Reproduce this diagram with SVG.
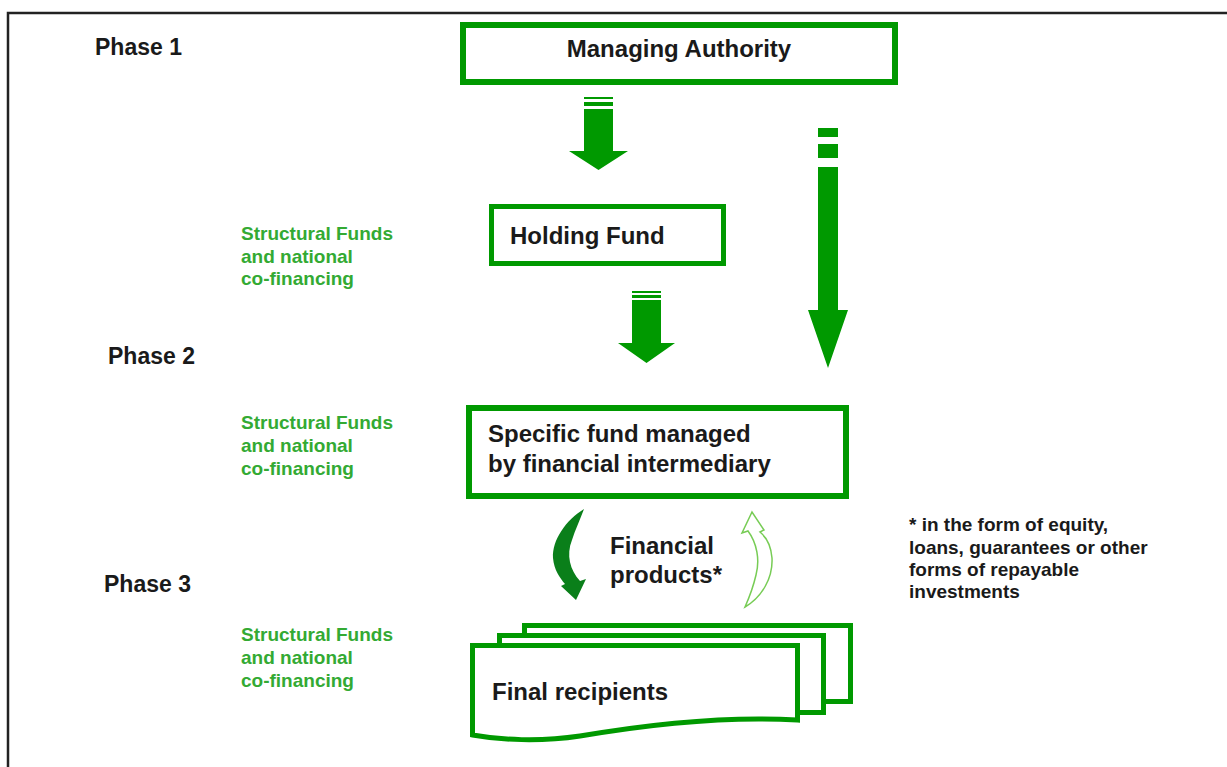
<svg xmlns="http://www.w3.org/2000/svg" width="1227" height="767" viewBox="0 0 1227 767">
<style>
.box{fill:#fff;stroke:#009900;}
.t{font-family:"Liberation Sans",Arial,sans-serif;font-weight:bold;fill:#1a1a1a;}
.big{font-size:24px;}
.ph{font-size:23px;}
.g{font-family:"Liberation Sans",Arial,sans-serif;font-weight:bold;fill:#33aa33;font-size:19px;}
.fn{font-size:19px;}
.arr{fill:#009900;}
</style>
<rect width="1227" height="767" fill="#fff"/>
<g id="frame"><path d="M8,767 V13 H1227" fill="none" stroke="#222" stroke-width="2.5"/></g>
<g id="labels">
<text class="t ph" x="95" y="55">Phase 1</text>
<text class="t ph" x="108" y="364">Phase 2</text>
<text class="t ph" x="104" y="592">Phase 3</text>
<text class="g" x="241" y="240">Structural Funds</text>
<text class="g" x="241" y="263">and national</text>
<text class="g" x="241" y="285">co-financing</text>
<text class="g" x="241" y="429">Structural Funds</text>
<text class="g" x="241" y="452">and national</text>
<text class="g" x="241" y="475">co-financing</text>
<text class="g" x="241" y="641">Structural Funds</text>
<text class="g" x="241" y="664">and national</text>
<text class="g" x="241" y="687">co-financing</text>
<text class="t fn" x="909" y="531">* in the form of equity,</text>
<text class="t fn" x="909" y="554">loans, guarantees or other</text>
<text class="t fn" x="909" y="576">forms of repayable</text>
<text class="t fn" x="909" y="598">investments</text>
</g>
<g id="managing-authority">
<rect class="box" x="463" y="25" width="432" height="57" stroke-width="6"/>
<text class="t big" x="679" y="57" text-anchor="middle">Managing Authority</text>
</g>
<g id="holding-fund">
<rect class="box" x="491.5" y="206.5" width="232" height="57" stroke-width="5"/>
<text class="t big" x="510" y="244">Holding Fund</text>
</g>
<g id="specific-fund">
<rect class="box" x="469" y="408" width="377" height="88" stroke-width="6"/>
<text class="t big" x="488" y="442">Specific fund managed</text>
<text class="t big" x="488" y="472">by financial intermediary</text>
</g>
<g id="final-recipients">
<rect class="box" x="524.5" y="625.5" width="326" height="76" stroke-width="5"/>
<rect class="box" x="499.5" y="635.5" width="324" height="77" stroke-width="5"/>
<path class="box" stroke-width="5" d="M472.5,645.5 H797.5 V720 C730,716 650,724 580,736 C540,742 500,740 472.5,735 Z"/>
<text class="t big" x="492" y="700">Final recipients</text>
</g>
<g id="financial-products">
<text class="t big" x="610" y="554">Financial</text>
<text class="t big" x="610" y="583">products*</text>
</g>
<g id="connectors">
<g class="arr">
<rect x="584" y="97" width="29" height="2"/>
<rect x="584" y="102" width="29" height="4"/>
<path d="M584,109 H613 V151 H628 L598.5,170 L569,151 H584 Z"/>
<rect x="632" y="291" width="29" height="2"/>
<rect x="632" y="295" width="29" height="3"/>
<path d="M632,300 H661 V343 H675 L646.5,363 L618,343 H632 Z"/>
<rect x="818" y="128" width="20" height="9"/>
<rect x="818" y="144" width="20" height="14"/>
<path d="M818,167 H838 V310 H848 L828,368 L808,310 H818 Z"/>
</g>
<path fill="#0a7f1a" d="M584,509 C566,520 552,540 553,558 C554,570 560,578 565,584 L561,586 L576,600 L586,579 L580,581 C570,570 566,555 572,540 C575,530 580,520 584,509 Z"/>
<path fill="#fff" stroke="#77cc55" stroke-width="1.5" d="M745,607 C762,597 773,578 772,558 C771,545 766,537 760,532 L764,530 L752,512 L742,533 L748,531 C757,543 760,560 756,575 C753,588 749,598 745,607 Z"/>
</g>
</svg>
